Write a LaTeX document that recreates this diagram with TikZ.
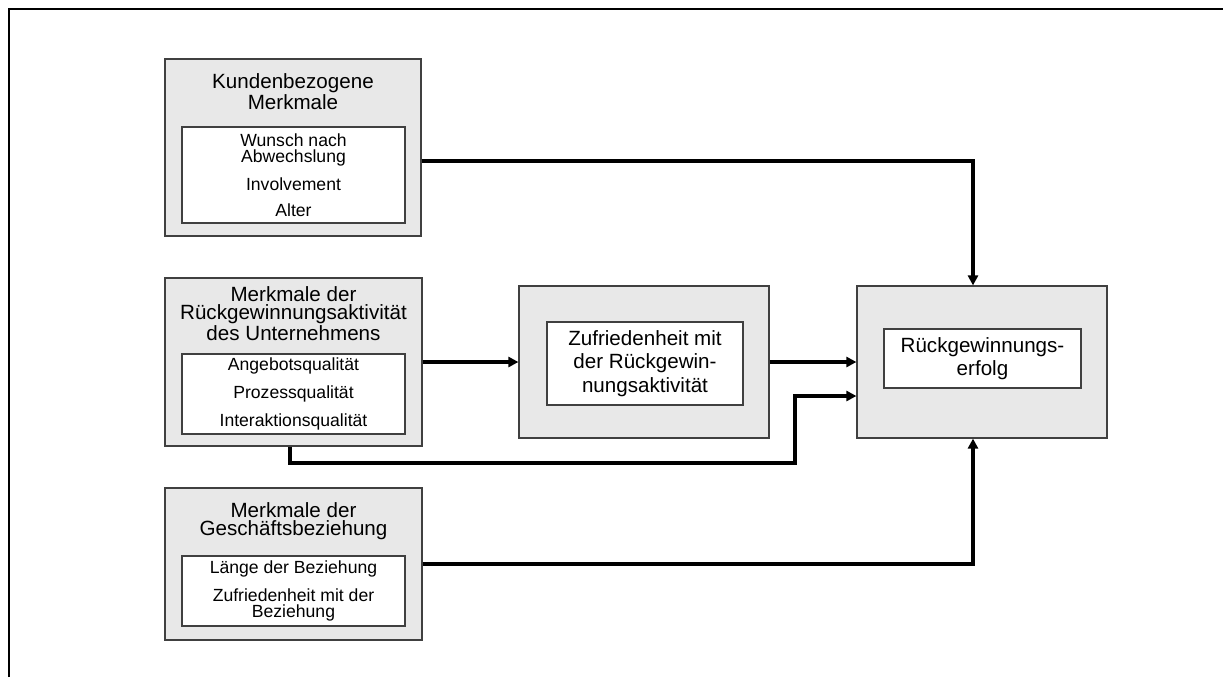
\documentclass[tikz,border=0pt]{standalone}
\usepackage{fontspec}
\setmainfont{Liberation Sans}
\usepackage{xcolor}
\usepackage{tikz}
\usetikzlibrary{arrows.meta,positioning,calc}

\definecolor{boxgray}{RGB}{232,232,232}
\newcommand{\titlefont}{\fontsize{10.3}{9}\selectfont}
\newcommand{\itemfont}{\fontsize{8.8}{8}\selectfont}
\newcommand{\zielfont}{\fontsize{10.3}{11.8}\selectfont}

\begin{document}
\begin{tikzpicture}[x=0.5pt, y=-0.5pt,
  outerbox/.style={draw=black!75, fill=boxgray, line width=0.6pt, inner sep=0pt},
  innerbox/.style={draw=black!75, fill=white, line width=0.6pt, inner sep=0pt, align=center},
  title/.style={align=center, inner sep=0pt, font=\titlefont},
  flow/.style={-{Triangle[length=5pt,width=5pt]}, line width=1.65pt}]
  \useasboundingbox (0,0) rectangle (1223,677);
  \draw[line width=1.3pt] (9,677) -- (9,9) -- (1223,9);

  % Einflussgroessen links
  \node[outerbox, minimum width=128pt, minimum height=88.5pt] (Kunden) at (293,147.5) {};
  \node[title] (KundenT) at (293,91.5) {Kundenbezogene\\Merkmale};
  \node[innerbox, minimum width=111.5pt, minimum height=48pt, font=\itemfont] (KundenI) at (293.5,175)
    {Wunsch nach\\Abwechslung\\[5pt]Involvement\\[5pt]Alter};

  \node[outerbox, minimum width=128.5pt, minimum height=84pt] (Aktiv) at (293.5,362) {};
  \node[title] (AktivT) at (293.5,314) {Merkmale der\\Rückgewinnungsaktivität\\des Unternehmens};
  \node[innerbox, minimum width=111.5pt, minimum height=40pt, font=\itemfont] (AktivI) at (293.5,394)
    {Angebotsqualität\\[5pt]Prozessqualität\\[5pt]Interaktionsqualität};

  \node[outerbox, minimum width=128.5pt, minimum height=76pt] (Bezieh) at (293.5,564) {};
  \node[title] (BeziehT) at (293.5,521) {Merkmale der\\Geschäftsbeziehung};
  \node[innerbox, minimum width=111.5pt, minimum height=35pt, font=\itemfont] (BeziehI) at (293.5,591)
    {Länge der Beziehung\\[4.5pt]Zufriedenheit mit der\\Beziehung};

  % Mediator und Ziel
  \node[outerbox, minimum width=125pt, minimum height=76pt] (Zufr) at (644,362) {};
  \node[innerbox, minimum width=98pt, minimum height=41.5pt, font=\zielfont] (ZufrI) at (645,363.5)
    {Zufriedenheit mit\\der Rückgewin-\\nungsaktivität};

  \node[outerbox, minimum width=125pt, minimum height=76pt] (Erfolg) at (982,362) {};
  \node[innerbox, minimum width=98.5pt, minimum height=29.5pt, font=\zielfont] (ErfolgI) at (982.5,358.5)
    {Rückgewinnungs-\\erfolg};

  \coordinate (knick) at (795,463);

  \draw[flow] ([yshift=-6.75pt]Kunden.east) -| ([xshift=-4.5pt]Erfolg.north);
  \draw[flow] (Aktiv.east) -- (Aktiv.east -| Zufr.west);
  \draw[flow] (Zufr.east) -- (Erfolg.west);
  \draw[flow] ([xshift=-1.75pt]Aktiv.south) |- (knick) |- ([yshift=-17pt]Erfolg.west);
  \draw[flow] (Bezieh.east) -| ([xshift=-4.5pt]Erfolg.south);
\end{tikzpicture}
\end{document}
